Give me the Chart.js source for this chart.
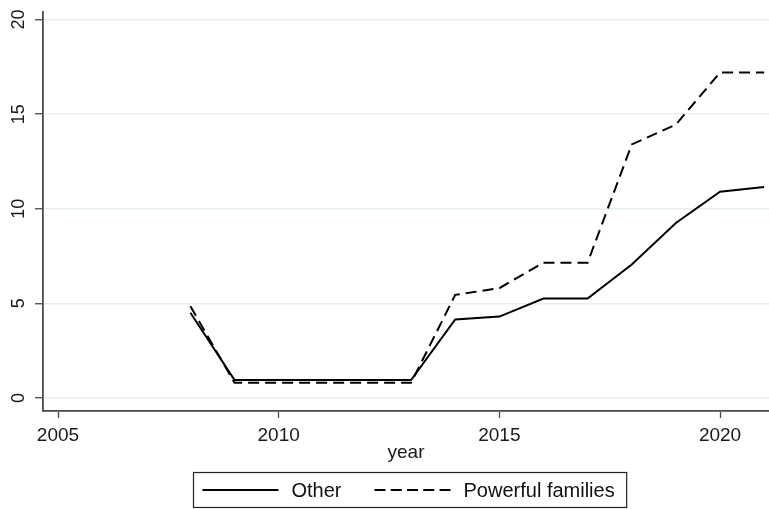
<!DOCTYPE html>
<html>
<head>
<meta charset="utf-8">
<script src="https://cdn.jsdelivr.net/npm/chart.js@4.4.1/dist/chart.umd.min.js"></script>
<style>
  html, body { margin: 0; padding: 0; background: #ffffff; }
  #wrap { width: 769px; height: 509px; }
</style>
</head>
<body>
<div id="wrap"><canvas id="c" width="769" height="509"></canvas></div>
<script>
// Yearly series
const years = [2008, 2009, 2010, 2011, 2012, 2013, 2014, 2015, 2016, 2017, 2018, 2019, 2020, 2021];
const otherValues = [4.5, 0.95, 0.95, 0.95, 0.95, 0.95, 4.15, 4.3, 5.25, 5.25, 7.05, 9.25, 10.9, 11.15];
const powerfulValues = [4.85, 0.8, 0.8, 0.8, 0.8, 0.8, 5.45, 5.8, 7.15, 7.15, 13.4, 14.45, 17.2, 17.2];

// Axis ticks
const xTicks = [2005, 2010, 2015, 2020];
const yTicks = [0, 5, 10, 15, 20];

const seriesNames = ['Other', 'Powerful families'];
const xTitle = 'year';

const FONT = '"Liberation Sans", Arial, Helvetica, sans-serif';
const AXIS_COLOR = '#4a4a4a';
const GRID_COLOR = '#e6eff1';

const toPoints = (vals) => years.map((y, i) => ({ x: y, y: vals[i] }));

// Rotated y tick labels (read bottom to top)
const yLabelPlugin = {
  id: 'yLabels',
  afterDraw(chart) {
    const ctx = chart.ctx;
    const ys = chart.scales.y;
    ctx.save();
    ctx.fillStyle = '#1a1a1a';
    ctx.font = '18px ' + FONT;
    ctx.textAlign = 'center';
    ctx.textBaseline = 'middle';
    yTicks.forEach(v => {
      const py = ys.getPixelForValue(v);
      ctx.save();
      ctx.translate(19, py);
      ctx.rotate(-Math.PI / 2);
      ctx.fillText(String(v), 0, 0);
      ctx.restore();
    });
    ctx.restore();
  }
};

// Boxed legend under the axis title
const boxLegendPlugin = {
  id: 'boxLegend',
  afterDraw(chart) {
    const ctx = chart.ctx;
    const ds = chart.data.datasets;
    ctx.save();
    ctx.font = '20px ' + FONT;
    const sample = 76, gapText = 13, gapItem = 33, padL = 9, padR = 12;
    const widths = ds.map(d => ctx.measureText(d.label).width);
    const total = padL + ds.length * (sample + gapText) + widths.reduce((a, b) => a + b, 0) + gapItem * (ds.length - 1) + padR;
    const cx = 410;
    const left = Math.round(cx - total / 2) + 0.5;
    const top = 472.5, h = 35;
    ctx.strokeStyle = '#222';
    ctx.lineWidth = 1.2;
    ctx.strokeRect(left, top, total, h);
    const midY = top + h / 2;
    let x = left + padL;
    ds.forEach((d, i) => {
      ctx.beginPath();
      ctx.setLineDash(d.borderDash ? [11, 5.25] : []);
      ctx.strokeStyle = '#000';
      ctx.lineWidth = 2;
      ctx.moveTo(x, midY);
      ctx.lineTo(x + sample, midY);
      ctx.stroke();
      ctx.setLineDash([]);
      x += sample + gapText;
      ctx.fillStyle = '#111';
      ctx.textAlign = 'left';
      ctx.textBaseline = 'middle';
      ctx.fillText(d.label, x, midY + 1);
      x += widths[i] + gapItem;
    });
    ctx.restore();
  }
};

const whiteBg = {
  id: 'whiteBg',
  beforeDraw(chart) {
    const ctx = chart.ctx;
    ctx.save();
    ctx.fillStyle = '#ffffff';
    ctx.fillRect(0, 0, chart.width, chart.height);
    ctx.restore();
  }
};

new Chart(document.getElementById('c'), {
  type: 'line',
  data: {
    datasets: [
      {
        label: seriesNames[0],
        data: toPoints(otherValues),
        borderColor: '#000000',
        borderWidth: 2,
        pointRadius: 0,
        tension: 0,
        fill: false
      },
      {
        label: seriesNames[1],
        data: toPoints(powerfulValues),
        borderColor: '#000000',
        borderWidth: 2,
        borderDash: [11, 6],
        pointRadius: 0,
        tension: 0,
        fill: false
      }
    ]
  },
  options: {
    responsive: false,
    animation: false,
    layout: { padding: { left: 0, right: 0, top: 12, bottom: 43 } },
    plugins: {
      legend: { display: false },
      tooltip: { enabled: false }
    },
    scales: {
      x: {
        type: 'linear',
        min: 2004.66,
        max: 2021.11,
        afterBuildTicks: (s) => { s.ticks = xTicks.map(v => ({ value: v })); },
        afterFit: (s) => { s.height = 55; },
        ticks: {
          color: '#1a1a1a',
          font: { family: FONT, size: 19 },
          padding: 6,
          maxRotation: 0,
          callback: (v) => String(v)
        },
        grid: {
          display: true,
          drawOnChartArea: false,
          drawTicks: true,
          tickLength: 7,
          tickColor: AXIS_COLOR,
          tickWidth: 1.3
        },
        border: { display: true, color: AXIS_COLOR, width: 1.8 },
        title: {
          display: true,
          text: xTitle,
          color: '#1a1a1a',
          font: { family: FONT, size: 19 },
          padding: { top: 0, bottom: 2 }
        }
      },
      y: {
        type: 'linear',
        min: -0.69,
        max: 20.4,
        afterBuildTicks: (s) => { s.ticks = yTicks.map(v => ({ value: v })); },
        afterFit: (s) => { s.width = 43; },
        ticks: { display: false },
        grid: {
          display: true,
          color: GRID_COLOR,
          lineWidth: 1.5,
          drawTicks: true,
          tickLength: 8,
          tickColor: AXIS_COLOR,
          tickWidth: 1.3
        },
        border: { display: true, color: AXIS_COLOR, width: 1.8 }
      }
    }
  },
  plugins: [whiteBg, yLabelPlugin, boxLegendPlugin]
});
</script>
</body>
</html>
